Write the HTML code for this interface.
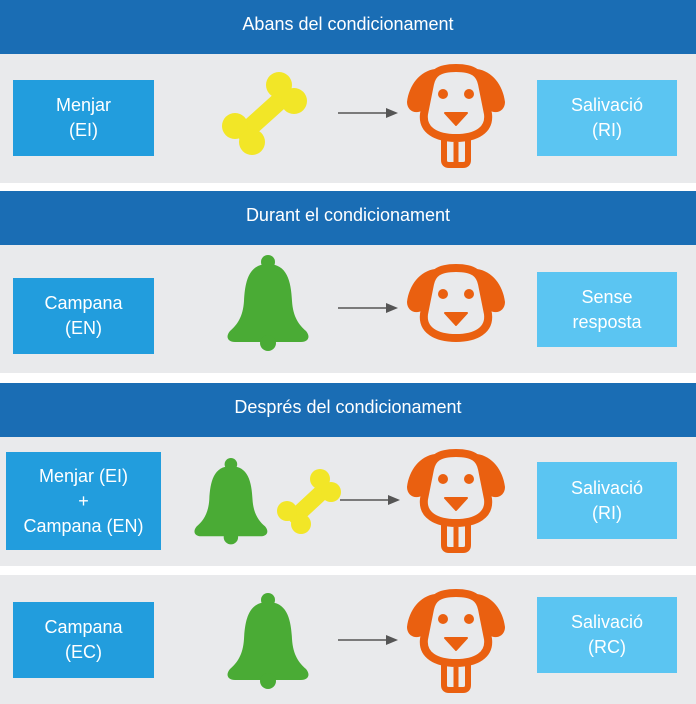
<!DOCTYPE html>
<html><head><meta charset="utf-8"><style>
body{margin:0;width:696px;height:704px;background:#fff;font-family:"Liberation Sans",sans-serif;position:relative;overflow:hidden}
.h{position:absolute;left:0;width:696px;height:54px;background:#1a6db4;color:#fff;font-size:18px;text-align:center;line-height:48px}
.p{position:absolute;left:0;width:696px;background:#e9eaec}
.b{position:absolute;color:#fff;font-size:18px;text-align:center;display:flex;align-items:center;justify-content:center;line-height:25px}
.l{background:#229ddd}.r{background:#5bc5f2}
svg{position:absolute;left:0;top:0}
</style></head><body>
<div class="h" style="top:0">Abans del condicionament</div>
<div class="p" style="top:54px;height:129px"></div>
<div class="h" style="top:191px">Durant el condicionament</div>
<div class="p" style="top:245px;height:128px"></div>
<div class="h" style="top:383px">Després del condicionament</div>
<div class="p" style="top:437px;height:129px"></div>
<div class="p" style="top:575px;height:129px"></div>

<div class="b l" style="left:13px;top:80px;width:141px;height:76px">Menjar<br>(EI)</div>
<div class="b r" style="left:537px;top:80px;width:140px;height:76px">Salivació<br>(RI)</div>
<div class="b l" style="left:13px;top:278px;width:141px;height:76px">Campana<br>(EN)</div>
<div class="b r" style="left:537px;top:272px;width:140px;height:75px">Sense<br>resposta</div>
<div class="b l" style="left:6px;top:452px;width:155px;height:98px">Menjar (EI)<br>+<br>Campana (EN)</div>
<div class="b r" style="left:537px;top:462px;width:140px;height:77px">Salivació<br>(RI)</div>
<div class="b l" style="left:13px;top:602px;width:141px;height:76px">Campana<br>(EC)</div>
<div class="b r" style="left:537px;top:597px;width:140px;height:76px">Salivació<br>(RC)</div>

<svg width="696" height="704" viewBox="0 0 696 704">
<defs>
<g id="head">
<path d="M28,5 C13,7 2,21 0,38 C0,47 9,51 16,46 L23,16 Z" fill="#ea6010"/>
<path d="M70,5 C85,7 96,21 98,38 C98,47 89,51 82,46 L75,16 Z" fill="#ea6010"/>
<path d="M49,4 C31,4 25,10 23,20 L17,50 C15,66 29,74 49,74 C69,74 83,66 81,50 L75,20 C73,10 67,4 49,4 Z" fill="#e9eaec" stroke="#ea6010" stroke-width="8"/>
<circle cx="36" cy="30" r="5" fill="#ea6010"/><circle cx="62" cy="30" r="5" fill="#ea6010"/>
<path d="M38,49 L60,49 L49,61 Z" fill="#ea6010" stroke="#ea6010" stroke-width="2" stroke-linejoin="round"/>
</g>
<g id="dog">
<path d="M37,74 L37,96 Q37,101 42,101 L56,101 Q61,101 61,96 L61,74" fill="none" stroke="#ea6010" stroke-width="6"/>
<line x1="49" y1="78" x2="49" y2="100" stroke="#ea6010" stroke-width="5"/>
<use href="#head"/>
</g>
<g id="bell">
<circle cx="41" cy="7" r="7" fill="#4aab35"/>
<path d="M41,9 C22,9 18,26 17,46 C16,62 10,70 3,76 C-2,82 1,87 8,87 L74,87 C81,87 84,82 79,76 C72,70 66,62 65,46 C64,26 60,9 41,9Z" fill="#4aab35"/>
<circle cx="41" cy="88" r="8" fill="#4aab35"/>
</g>
<g id="arrow">
<line x1="0" y1="0" x2="50" y2="0" stroke="#555" stroke-width="1.6"/>
<path d="M48,-5 L60,0 L48,5 Z" fill="#555"/>
</g>
</defs>

<g stroke="#f2e627" stroke-linecap="round" fill="#f2e627">
<line x1="245" y1="132" x2="285" y2="96" stroke-width="18"/>
<circle cx="235" cy="126" r="13" stroke="none"/><circle cx="252" cy="142" r="13" stroke="none"/>
<circle cx="279" cy="85" r="13" stroke="none"/><circle cx="294" cy="101" r="13" stroke="none"/>
</g>
<use href="#arrow" x="338" y="113"/>
<use href="#dog" x="407" y="64"/>

<use href="#bell" x="227" y="255"/>
<use href="#arrow" x="338" y="308"/>
<use href="#head" x="407" y="264"/>

<g transform="translate(194,458) scale(0.9)"><use href="#bell"/></g>
<g fill="#f2e627">
<line x1="296" y1="516" x2="324" y2="490" stroke="#f2e627" stroke-width="16" stroke-linecap="round"/>
<circle cx="287" cy="511" r="10"/><circle cx="301" cy="524" r="10"/>
<circle cx="320" cy="479" r="10"/><circle cx="331" cy="492" r="10"/>
</g>
<use href="#arrow" x="340" y="500"/>
<use href="#dog" x="407" y="449"/>

<use href="#bell" x="227" y="593"/>
<use href="#arrow" x="338" y="640"/>
<use href="#dog" x="407" y="589"/>
</svg>
</body></html>
